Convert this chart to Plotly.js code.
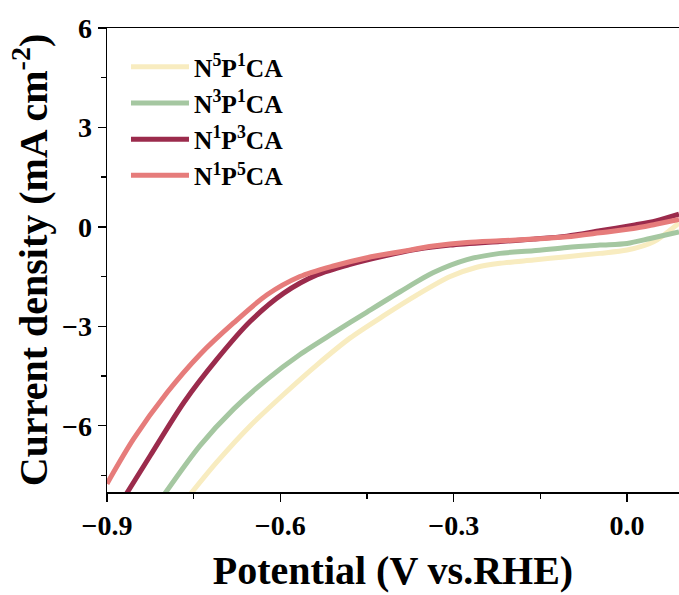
<!DOCTYPE html>
<html><head><meta charset="utf-8">
<script src="https://cdn.plot.ly/plotly-3.0.1.min.js"></script>
<style>body{margin:0;padding:0;background:#fff}#plot{width:679px;height:595px}</style>
</head><body><div id="plot"></div>
<script>
const names = ["N<sup>5</sup>P<sup>1</sup>CA","N<sup>3</sup>P<sup>1</sup>CA","N<sup>1</sup>P<sup>3</sup>CA","N<sup>1</sup>P<sup>5</sup>CA"];
const colors = ["#F8ECC0","#A5C7A1","#9B2B4C","#E67C7B"];

const vN5P1 = [-0.755,-0.71,-0.652,-0.594,-0.537,-0.479,-0.421,-0.364,-0.306,-0.26,-0.22,-0.162,-0.104,-0.047,0.0,0.046,0.09];
const jN5P1 = [-8.05,-7.1,-6.0,-5.05,-4.17,-3.35,-2.68,-2.06,-1.5,-1.22,-1.1,-1.0,-0.9,-0.8,-0.7,-0.45,0.12];

const vN3P1 = [-0.8,-0.739,-0.681,-0.623,-0.566,-0.508,-0.45,-0.392,-0.335,-0.277,-0.22,-0.162,-0.104,-0.047,0.0,0.04,0.09];
const jN3P1 = [-8.05,-6.6,-5.5,-4.6,-3.85,-3.2,-2.57,-1.95,-1.38,-0.99,-0.8,-0.72,-0.62,-0.55,-0.5,-0.35,-0.15];

const vN1P3 = [-0.868,-0.825,-0.767,-0.71,-0.652,-0.594,-0.537,-0.479,-0.421,-0.364,-0.306,-0.22,-0.162,-0.104,-0.047,0.011,0.05,0.09];
const jN1P3 = [-8.1,-6.9,-5.3,-4.0,-2.85,-2.0,-1.45,-1.13,-0.88,-0.68,-0.55,-0.44,-0.37,-0.28,-0.12,0.05,0.18,0.38];

const vN1P5 = [-0.9,-0.854,-0.796,-0.739,-0.681,-0.623,-0.566,-0.508,-0.45,-0.392,-0.335,-0.277,-0.22,-0.162,-0.104,-0.047,0.011,0.05,0.09];
const jN1P5 = [-7.75,-6.4,-5.0,-3.85,-2.9,-2.05,-1.5,-1.18,-0.93,-0.75,-0.58,-0.47,-0.42,-0.37,-0.3,-0.18,-0.05,0.08,0.22];

const xs = [vN5P1, vN3P1, vN1P3, vN1P5];
const ys = [jN5P1, jN3P1, jN1P3, jN1P5];

const font = "'Liberation Serif', 'Times New Roman', serif";
const data = names.map((n,i)=>({
  x: xs[i], y: ys[i], name: n, type:'scatter', mode:'lines',
  line:{color:colors[i], width:5, shape:'spline', smoothing:0.8}
}));

const layout = {
  width:679, height:595,
  margin:{l:107, r:0, t:28, b:103},
  paper_bgcolor:'#fff', plot_bgcolor:'#fff',
  font:{family:font, color:'#000'},
  showlegend:true,
  legend:{x:0.0332, y:0.966, xanchor:'left', yanchor:'top', bgcolor:'rgba(0,0,0,0)',
    font:{family:font, size:25.5, weight:'bold', color:'#000'}, itemwidth:58, tracegroupgap:0},
  xaxis:{range:[-0.9,0.09], tick0:-0.9, dtick:0.3, tickformat:'.1f',
    ticks:'outside', ticklen:8, tickwidth:1.5, tickcolor:'#000',
    showline:true, linewidth:1.5, linecolor:'#000', mirror:true,
    showgrid:false, zeroline:false,
    minor:{dtick:0.15, ticks:'outside', ticklen:5, tickwidth:1.5, tickcolor:'#000', showgrid:false},
    tickfont:{family:font, size:28, weight:'bold'},
    title:{text:'Potential (V vs.RHE)', font:{family:font, size:40, weight:'bold'}, standoff:16}},
  yaxis:{range:[-8,6], tick0:0, dtick:3,
    ticks:'outside', ticklen:8, tickwidth:1.5, tickcolor:'#000',
    showline:true, linewidth:1.5, linecolor:'#000', mirror:false,
    showgrid:false, zeroline:false,
    minor:{dtick:1.5, ticks:'outside', ticklen:5, tickwidth:1.5, tickcolor:'#000', showgrid:false},
    tickfont:{family:font, size:28, weight:'bold'},
    title:{text:'Current density (mA cm<sup>-2</sup>)', font:{family:font, size:40, weight:'bold'}, standoff:2}}
};
Plotly.newPlot('plot', data, layout, {displayModeBar:false, staticPlot:true});
</script></body></html>
